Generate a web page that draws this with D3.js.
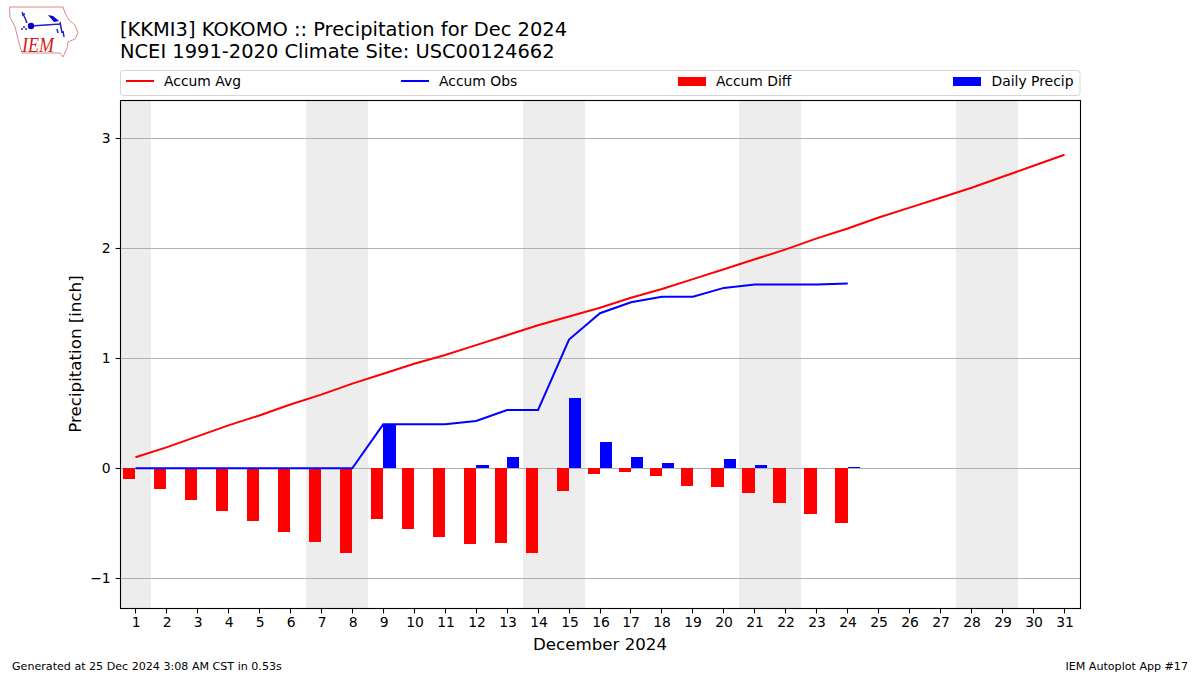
<!DOCTYPE html>
<html><head><meta charset="utf-8">
<script src="https://cdn.jsdelivr.net/npm/d3@7/dist/d3.min.js"></script>
<style>
html,body{margin:0;padding:0;background:#fff;overflow:hidden}
svg{display:block}
text{font-family:"DejaVu Sans",sans-serif;fill:#000}
</style></head><body><div id="c"></div>
<script>
const days = d3.range(1, 32);
const accumAvg = [0.10,0.19,0.29,0.39,0.48,0.58,0.67,0.77,0.86,0.95,1.03,1.12,1.21,1.30,1.38,1.46,1.55,1.63,1.72,1.81,1.90,1.99,2.09,2.18,2.28,2.37,2.46,2.55,2.65,2.75,2.85];
const accumObs = [0,0,0,0,0,0,0,0,0.40,0.40,0.40,0.43,0.53,0.53,1.17,1.41,1.51,1.56,1.56,1.64,1.67,1.67,1.67,1.68];
const accumDiff = [-0.10,-0.19,-0.29,-0.39,-0.48,-0.58,-0.67,-0.77,-0.46,-0.55,-0.63,-0.69,-0.68,-0.77,-0.21,-0.05,-0.04,-0.07,-0.16,-0.17,-0.23,-0.32,-0.42,-0.50];
const dailyPrecip = [0,0,0,0,0,0,0,0,0.40,0,0,0.03,0.10,0,0.64,0.24,0.10,0.05,0,0.08,0.03,0,0,0.01];
const weekendStarts = [0.5,6.5,13.5,20.5,27.5];
const weekendEnds = [1.5,8.5,15.5,22.5,29.5];
const yTicks = [-1,0,1,2,3];
const titleLines = ["[KKMI3] KOKOMO :: Precipitation for Dec 2024","NCEI 1991-2020 Climate Site: USC00124662"];
const legendNames = ["Accum Avg","Accum Obs","Accum Diff","Daily Precip"];
const legendColors = ["#ff0000","#0000ff","#ff0000","#0000ff"];

const W=1200,H=675,L=120,R=1080,T=100,B=608;
const svg=d3.select("#c").append("svg").attr("width",W).attr("height",H);
const x=d3.scaleLinear().domain([0.5,31.5]).range([L,R]);
const y=d3.scaleLinear().domain([3,0]).range([138,468]);
const yB=d3.scaleLinear().domain([y.invert(B),y.invert(T)]).range([B,T]);
const rx=v=>Math.round(x(v)), ry=v=>Math.round(yB(v));

// weekend bands
svg.append("g").selectAll("rect").data(weekendStarts).join("rect")
 .attr("x",d=>rx(d)).attr("width",(d,i)=>rx(weekendEnds[i])-rx(d))
 .attr("y",T).attr("height",B-T).attr("fill","#ededed");

// grid
svg.append("g").selectAll("line").data(yTicks).join("line")
 .attr("x1",L).attr("x2",R).attr("y1",d=>ry(d)+.5).attr("y2",d=>ry(d)+.5)
 .attr("stroke","#b0b0b0").attr("stroke-width",1.1);

// bars
const bw=0.4;
svg.append("g").selectAll("rect").data(accumDiff).join("rect")
 .attr("x",(d,i)=>rx(days[i]-bw)).attr("width",(d,i)=>rx(days[i])-rx(days[i]-bw))
 .attr("y",ry(0)).attr("height",d=>ry(d)-ry(0)).attr("fill","#ff0000");
svg.append("g").selectAll("rect").data(dailyPrecip).join("rect")
 .attr("x",(d,i)=>rx(days[i])).attr("width",(d,i)=>rx(days[i]+bw)-rx(days[i]))
 .attr("y",d=>ry(d)).attr("height",d=>ry(0)-ry(d)).attr("fill","#0000ff");

// lines
const line=d3.line().x((d,i)=>x(days[i])).y(d=>yB(d)+.3);
svg.append("path").attr("d",line(accumAvg)).attr("fill","none").attr("stroke","#ff0000").attr("stroke-width",2);
svg.append("path").attr("d",line(accumObs)).attr("fill","none").attr("stroke","#0000ff").attr("stroke-width",2);

// axes
const gx=svg.append("g").attr("transform",`translate(0,${B+.5})`)
 .call(d3.axisBottom(x).tickValues(days).tickFormat(d3.format("d")).tickSize(4.9).tickPadding(4).offset(0));
gx.selectAll(".tick").attr("transform",d=>`translate(${Math.floor(x(d))+.5},0)`);
gx.selectAll(".tick text").attr("dx",0.6);
const gy=svg.append("g").attr("transform",`translate(${L+.5},0)`)
 .call(d3.axisLeft(yB).tickValues(yTicks).tickFormat(d=>d<0?"\u2212"+Math.abs(d):d).tickSize(4.9).tickPadding(5).offset(0));
gy.selectAll(".tick").attr("transform",d=>`translate(0,${ry(d)+.5})`);
[gx,gy].forEach(g=>{g.select(".domain").remove();g.selectAll("text").attr("font-size",13.9).style("font-family",'"DejaVu Sans"');g.selectAll("line").attr("stroke","#000").attr("stroke-width",1.1);});
svg.append("rect").attr("x",L+.5).attr("y",T+.5).attr("width",R-L).attr("height",B-T).attr("fill","none").attr("stroke","#000").attr("stroke-width",1.1);

// axis labels
svg.append("text").attr("x",600).attr("y",649.5).attr("text-anchor","middle").attr("font-size",16.67).text("December 2024");
svg.append("text").attr("transform","translate(80.5,354) rotate(-90)").attr("text-anchor","middle").attr("font-size",16.67).text("Precipitation [inch]");

// title
svg.append("g").selectAll("text").data(titleLines).join("text")
 .attr("x",120).attr("y",(d,i)=>36+i*22).attr("font-size",19.44).text(d=>d);

// legend
svg.append("rect").attr("x",120.5).attr("y",70.5).attr("width",959.5).attr("height",25).attr("rx",2.5)
 .attr("fill","#fff").attr("stroke","#d6d6d6").attr("stroke-width",1);
const legendX=[126,401,678,953];
const lg=svg.append("g").selectAll("g").data(legendNames).join("g").attr("transform",(d,i)=>`translate(${legendX[i]},81)`);
lg.each(function(d,i){
 const g=d3.select(this);
 if(i<2) g.append("line").attr("x1",0).attr("x2",28).attr("stroke",legendColors[i]).attr("stroke-width",2);
 else g.append("rect").attr("x",0).attr("y",-4).attr("width",28).attr("height",9).attr("fill",legendColors[i]);
 g.append("text").attr("x",i==3?38.5:38).attr("y",5).attr("font-size",13.9).text(d);
});

// footer
svg.append("text").attr("x",12).attr("y",670).attr("font-size",11.1).text("Generated at 25 Dec 2024 3:08 AM CST in 0.53s");
svg.append("text").attr("x",1188).attr("y",670).attr("text-anchor","end").attr("font-size",11.1).text("IEM Autoplot App #17");

// logo
const logo=svg.append("g");
logo.append("path").attr("d","M9.5,7 L63,7 L65,13 L69,20 L75,25 L78,33 L75,39 L68,42 L67,48 L63,57 L60,53 L22,53 L19,43 L15,27 L10,17 Z")
 .attr("fill","#fff").attr("stroke","#e08a8a").attr("stroke-width",1);
logo.append("path").attr("d","M22,12 L25,18 L27,23 M22,15 L25,14 M31,26 L60,24 M60,22 L62,33 M57,29 L58,33 M63,31 L64,37")
 .attr("fill","none").attr("stroke","#2020cc").attr("stroke-width",1.5);
logo.append("circle").attr("cx",31).attr("cy",26).attr("r",3.2).attr("fill","#0000cc");
logo.append("path").attr("d","M48,15 L53,16 L59,21 L54,22 Z").attr("fill","#0000cc");
logo.selectAll("circle.d").data([[24,27],[22,29],[26,29]]).join("circle").attr("class","d").attr("cx",d=>d[0]).attr("cy",d=>d[1]).attr("r",1).attr("fill","#2020cc");
logo.append("text").attr("x",22).attr("y",52).attr("font-size",21).attr("font-style","italic")
 .attr("textLength",32).attr("lengthAdjust","spacingAndGlyphs")
 .style("font-family",'"Liberation Serif"').style("fill","#d42020").text("IEM");
</script></body></html>
